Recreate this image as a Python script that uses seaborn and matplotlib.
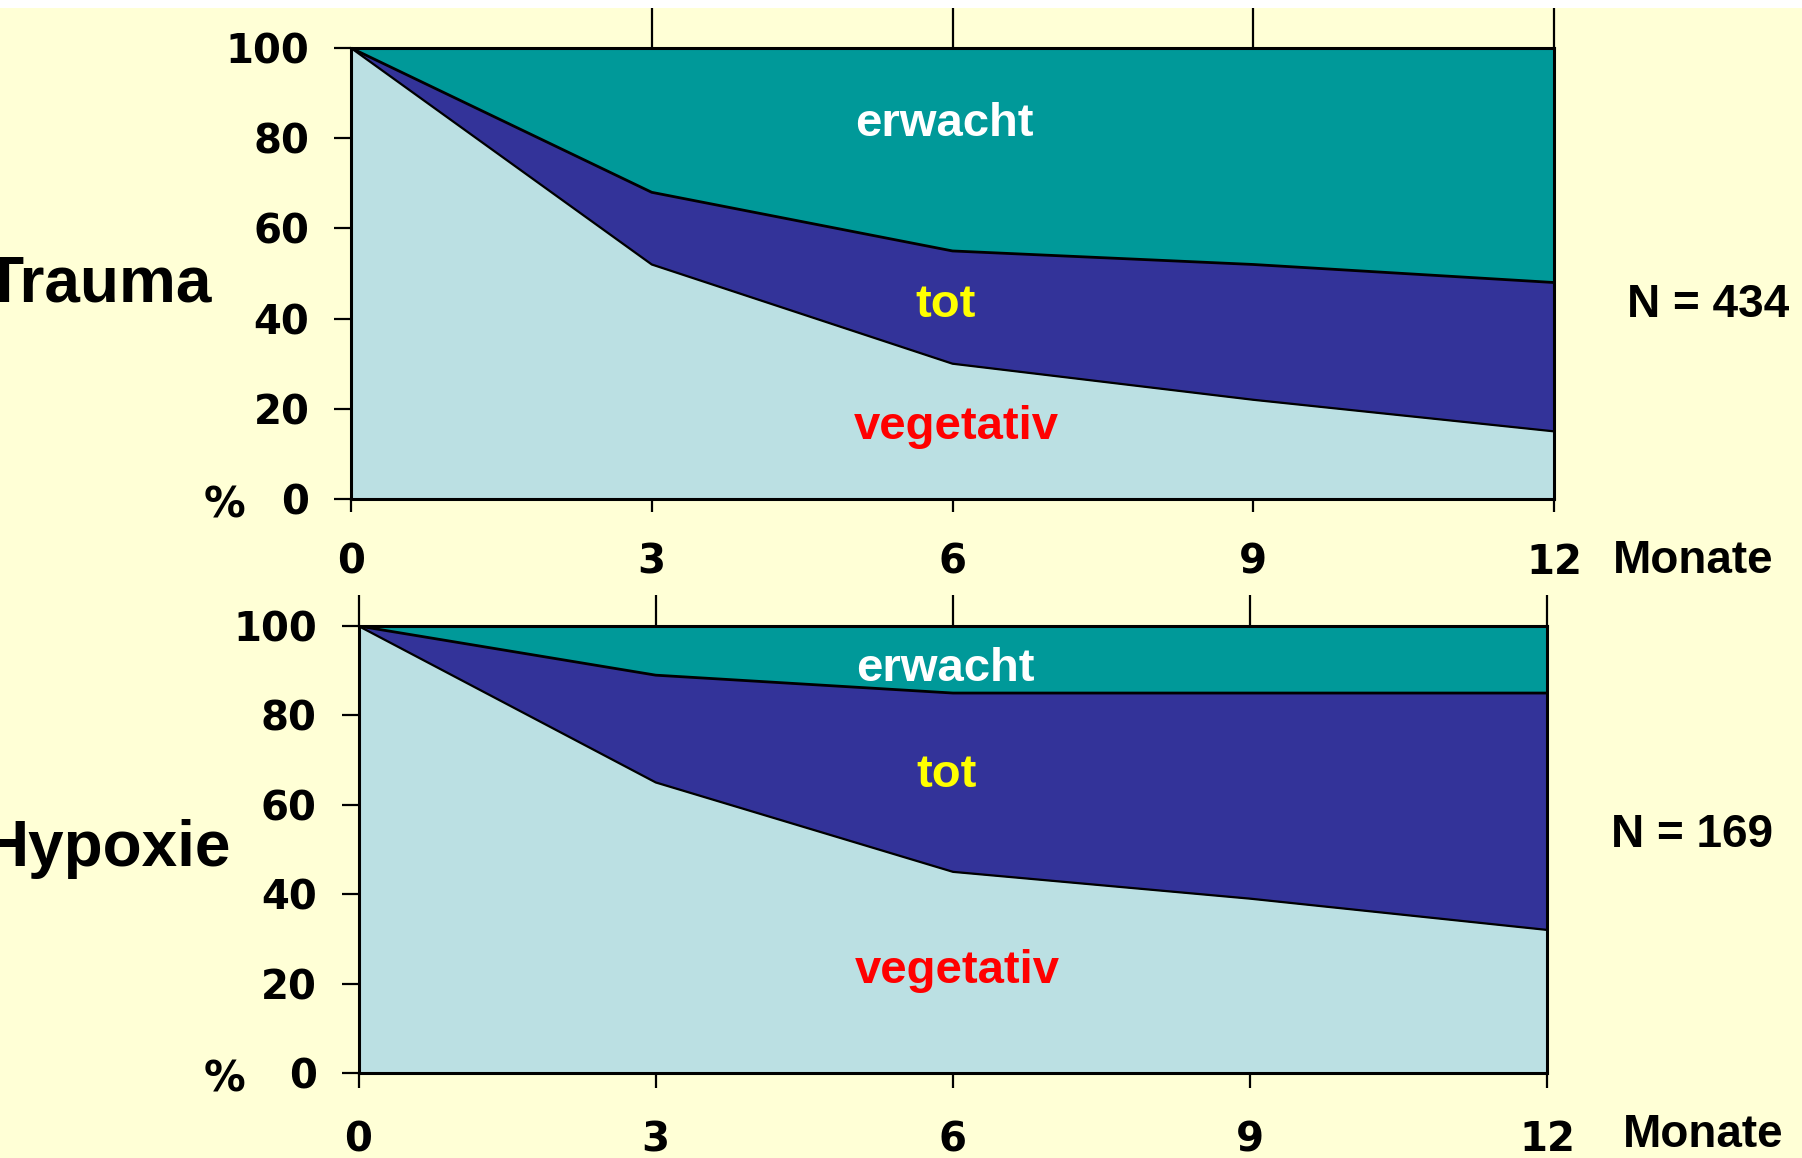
import numpy as np
import pandas as pd
import matplotlib
matplotlib.use("Agg")
import matplotlib.pyplot as plt
import seaborn as sns

# Outcome after coma, months since onset
months = [0, 3, 6, 9, 12]

# Trauma cohort (percent of patients)
trauma_vegetativ = [100, 52, 30, 22, 15]
trauma_tot = [0, 16, 25, 30, 33]
trauma_erwacht = [0, 32, 45, 48, 52]

# Hypoxie cohort (percent of patients)
hypoxie_vegetativ = [100, 65, 45, 39, 32]
hypoxie_tot = [0, 24, 40, 46, 53]
hypoxie_erwacht = [0, 11, 15, 15, 15]

y_ticks = [0, 20, 40, 60, 80, 100]
x_ticks = [0, 3, 6, 9, 12]

BG = "#FFFFD6"
C_VEG = "#BBE0E3"
C_TOT = "#333399"
C_ERW = "#009999"
FONT = ["Liberation Sans", "DejaVu Sans"]
TICKFONT = ["DejaVu Sans"]

sns.set_theme(style="ticks")
plt.rcParams["font.family"] = FONT
plt.rcParams["font.weight"] = "bold"
plt.rcParams["text.color"] = "black"

W, H = 1802, 1158
DPI = 100
fig = plt.figure(figsize=(W / DPI, H / DPI), dpi=DPI, facecolor=BG)

# thin white strip along the top edge
fig.add_artist(plt.Rectangle((0, 1 - 8 / H), 1, 8 / H, transform=fig.transFigure,
                             facecolor="white", edgecolor="none", zorder=0))


def panel(rect, veg, tot, erw, name, n_label, top_ticks, top_len, xpad, xlen,
          txt_y, pct_x, name_xy, n_xy, mon_xy):
    ax = fig.add_axes(rect)
    df = pd.DataFrame({"Monat": months, "vegetativ": veg, "tot": tot, "erwacht": erw})
    df["lower"] = df["vegetativ"]
    df["upper"] = df["vegetativ"] + df["tot"]

    ax.set_facecolor(C_ERW)
    ax.fill_between(df["Monat"], 0, df["lower"], color=C_VEG, lw=0, zorder=1)
    ax.fill_between(df["Monat"], df["lower"], df["upper"], color=C_TOT, lw=0, zorder=1)
    ax.fill_between(df["Monat"], df["upper"], 100, color=C_ERW, lw=0, zorder=1)
    sns.lineplot(data=df, x="Monat", y="lower", color="black", lw=1.6, ax=ax, zorder=2)
    sns.lineplot(data=df, x="Monat", y="upper", color="black", lw=2.0, ax=ax, zorder=2)

    ax.set_xlim(0, 12)
    ax.set_ylim(0, 100)
    ax.set_xlabel("")
    ax.set_ylabel("")
    for s in ax.spines.values():
        s.set_color("black")
        s.set_linewidth(2.2)
        s.set_visible(True)

    ax.set_yticks(y_ticks)
    ax.set_yticklabels([str(v) for v in y_ticks])
    ax.set_xticks(x_ticks)
    ax.set_xticklabels([str(v) for v in x_ticks])
    ax.tick_params(axis="y", direction="out", length=12, width=1.6, color="black",
                   pad=18, labelsize=29, labelcolor="black")
    ax.tick_params(axis="x", direction="out", length=xlen, width=1.6, color="black",
                   pad=xpad, labelsize=29, labelcolor="black")
    for lab in ax.get_xticklabels() + ax.get_yticklabels():
        lab.set_fontweight("bold")
        lab.set_family(TICKFONT)

    # tick marks rising above the plot frame
    sec = ax.secondary_xaxis("top")
    sec.set_xticks(top_ticks)
    sec.set_xticklabels([])
    sec.tick_params(direction="out", length=top_len, width=1.6, color="black")
    sec.spines["top"].set_visible(False)

    # band labels
    ax.text(5.92, txt_y[0], "erwacht", color="white", ha="center", va="baseline",
            fontsize=34, fontweight="bold", family=FONT, zorder=3)
    ax.text(5.93, txt_y[1], "tot", color="#FFFF00", ha="center", va="baseline",
            fontsize=34, fontweight="bold", family=FONT, zorder=3)
    ax.text(6.04, txt_y[2], "vegetativ", color="#FF0000", ha="center", va="baseline",
            fontsize=34, fontweight="bold", family=FONT, zorder=3)

    # unit mark beside the zero tick
    ax.text(pct_x, -0.5, "%", ha="center", va="center_baseline", fontsize=30,
            fontweight="bold", family=TICKFONT, clip_on=False)

    fig.text(mon_xy[0] / W, 1 - mon_xy[1] / H, "Monate", ha="left", va="baseline",
             fontsize=33, fontweight="bold", family=FONT)
    fig.text(name_xy[0] / W, 1 - name_xy[1] / H, name, ha="left", va="baseline",
             fontsize=46, fontweight="bold", family=FONT)
    fig.text(n_xy[0] / W, 1 - n_xy[1] / H, n_label, ha="left", va="baseline",
             fontsize=33, fontweight="bold", family=FONT)
    return ax


panel([351 / W, 1 - 499 / H, (1554 - 351) / W, (499 - 48) / H],
      trauma_vegetativ, trauma_tot, trauma_erwacht, "Trauma", "N = 434",
      [3, 6, 9, 12], 29, 22, 9.5, (80.5, 40.3, 13.2), -1.26,
      (-16, 301), (1627, 317), (1613, 573))

panel([358.5 / W, 1 - 1073 / H, (1547.5 - 358.5) / W, (1073 - 626) / H],
      hypoxie_vegetativ, hypoxie_tot, hypoxie_erwacht, "Hypoxie", "N = 169",
      [0, 3, 6, 9, 12], 22, 23, 11, (87.6, 63.9, 20.2), -1.35,
      (-17, 866), (1611, 847), (1623, 1147))

fig.savefig("out.png", dpi=DPI, facecolor=BG)
